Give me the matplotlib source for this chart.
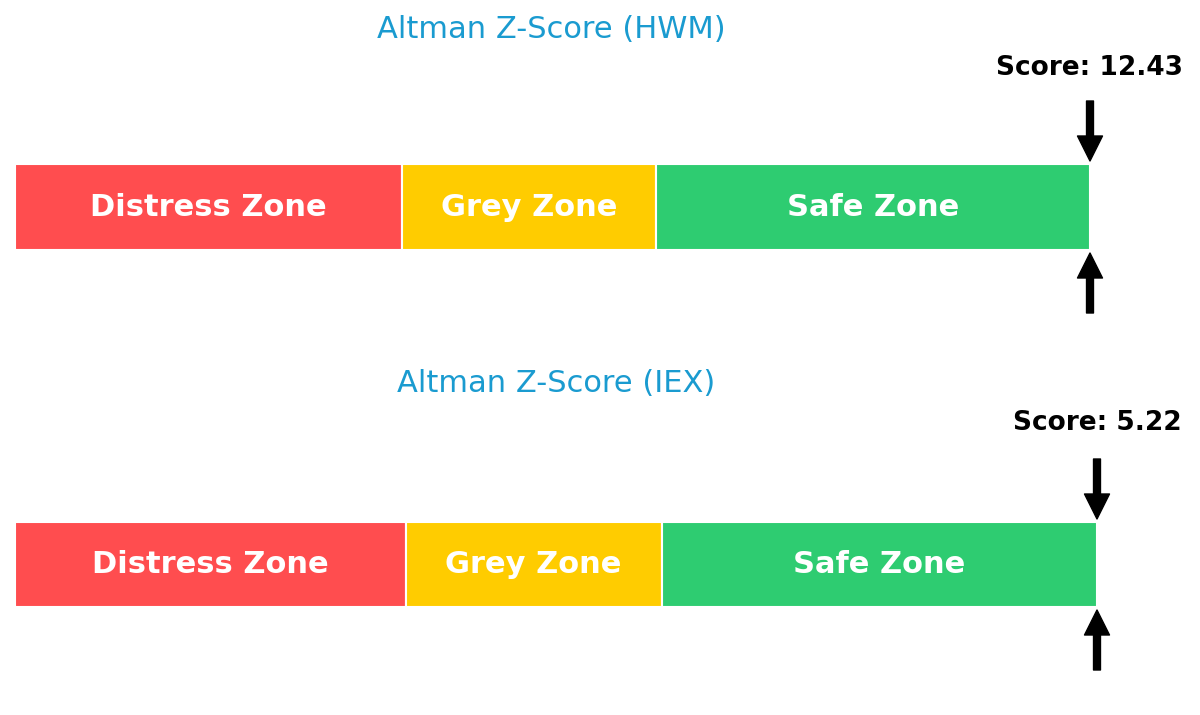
import matplotlib
matplotlib.use("Agg")
import matplotlib.pyplot as plt

plt.rcParams["font.family"] = ["DejaVu Sans"]

companies = ["HWM", "IEX"]
scores = [12.43, 5.22]
zone_labels = ["Distress Zone", "Grey Zone", "Safe Zone"]
zone_colors = ["#ff4d4f", "#ffcc00", "#2ecc71"]
# zone edges as displayed on each bar
zone_edges = [
    [0.0, 1.83, 3.03, 5.08],
    [0.0, 1.83, 3.03, 5.07],
]

W, H = 1200, 715
fig = plt.figure(figsize=(W / 100, H / 100), dpi=100)

# axes boxes in pixels: left, right, top, bottom
boxes = [(15, 1090, 164, 250), (15, 1097, 522, 607)]
title_px = [(551, 29), (556, 384)]
score_px = [68, 423]

arrow_style = dict(facecolor="black", edgecolor="black", width=5,
                   headwidth=18, headlength=18, shrink=0)

for i, comp in enumerate(companies):
    l, r, t, b = boxes[i]
    ax = fig.add_axes([l / W, (H - b) / H, (r - l) / W, (b - t) / H])
    edges = zone_edges[i]
    hpx = b - t
    for j, lab in enumerate(zone_labels):
        ax.barh(0.5, edges[j + 1] - edges[j], left=edges[j], height=1.0,
                color=zone_colors[j], edgecolor="white", linewidth=1.5)
        ax.text((edges[j] + edges[j + 1]) / 2, 0.5, lab, ha="center", va="center",
                color="white", fontsize=22, fontweight="bold")
    ax.set_xlim(edges[0], edges[-1])
    ax.set_ylim(0, 1)
    ax.axis("off")
    xe = edges[-1]
    ax.annotate("", xy=(xe, 1 + 3 / hpx), xytext=(xe, 1 + 63 / hpx),
                arrowprops=arrow_style, annotation_clip=False)
    ax.annotate("", xy=(xe, -3 / hpx), xytext=(xe, -63 / hpx),
                arrowprops=arrow_style, annotation_clip=False)
    ax.text(xe, 1 + (t - score_px[i]) / hpx,
            f"Score: {scores[i]:.2f}", ha="center", va="center",
            fontsize=19, fontweight="bold", color="black", clip_on=False)
    tx, ty = title_px[i]
    fig.text(tx / W, (H - ty) / H, f"Altman Z-Score ({comp})", ha="center", va="center",
             fontsize=22, color="#1a9bd0")

fig.savefig("out.png", dpi=100)
